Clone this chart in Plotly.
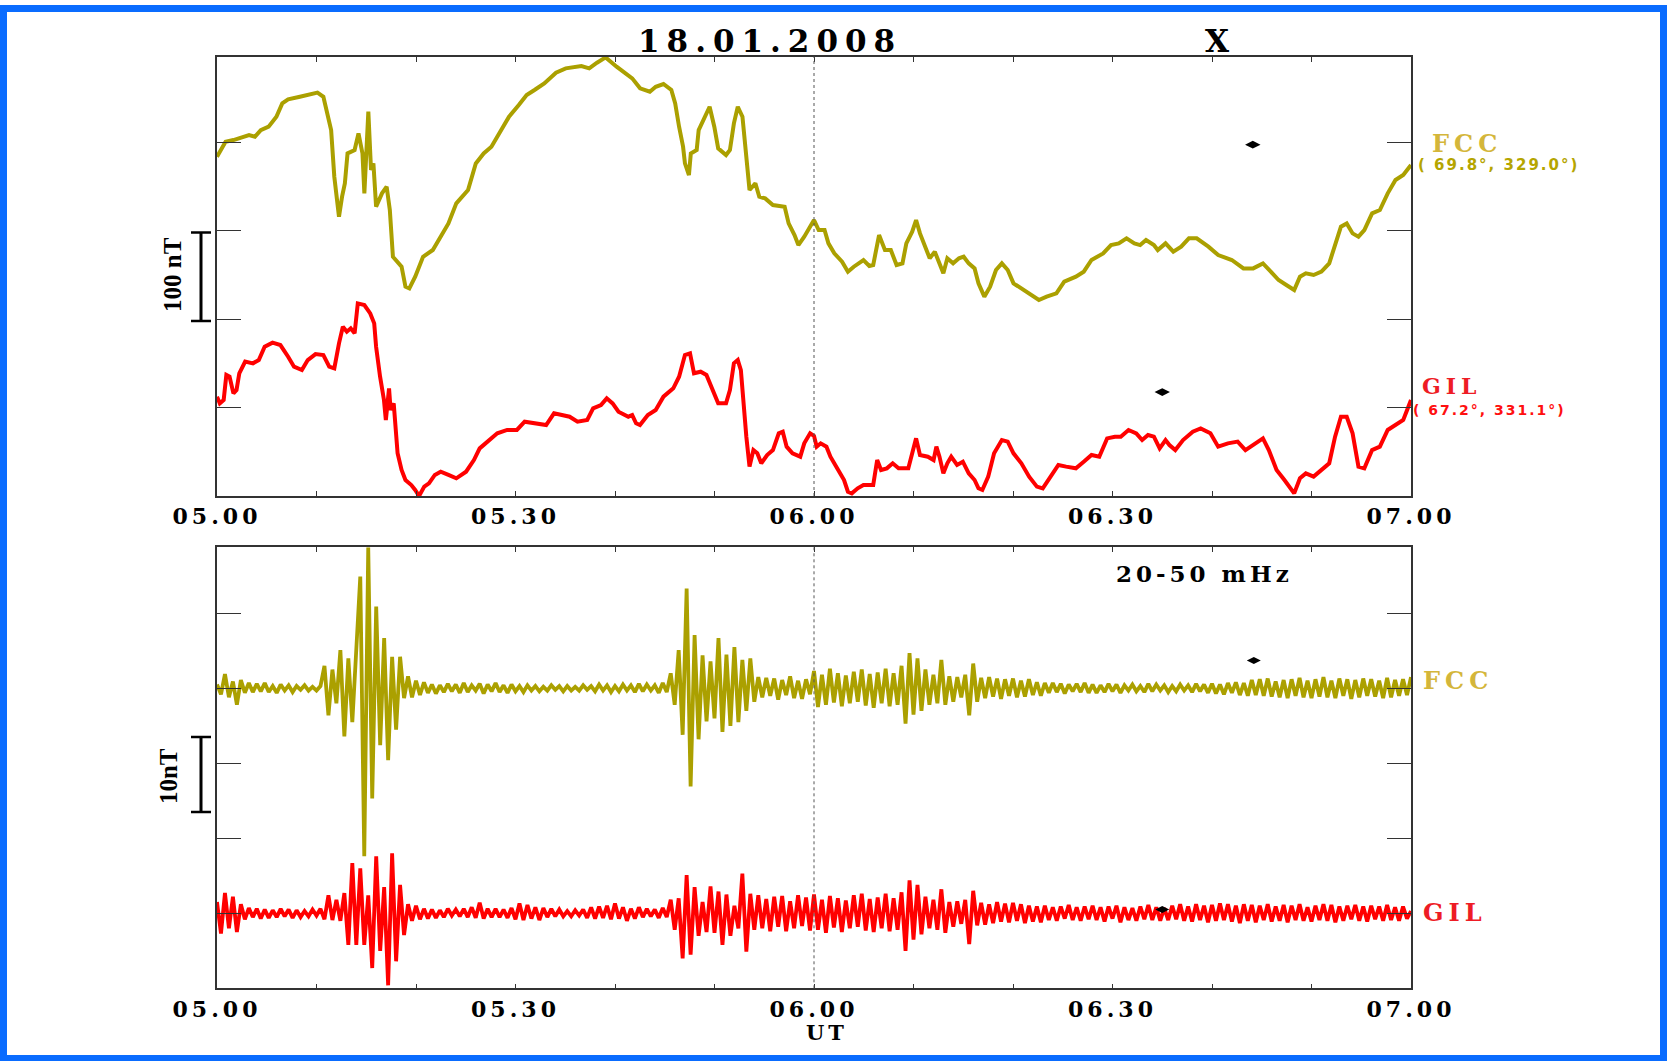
import numpy as np
import plotly.graph_objects as go

W, H = 1667, 1061

# ---------------- data (minutes after 05:00 UT) ----------------
x_tickvals = [0, 10, 20, 30, 40, 50, 60, 70, 80, 90, 100, 110, 120]
x_ticklabels = ["05.00", "", "", "05.30", "", "", "06.00", "", "", "06.30", "", "", "07.00"]

# Upper panel: X component, stacked (nT on the panel scale)
fcc_t = [0, 0.86, 1.65, 3.22, 3.81, 4.4, 5.19, 5.97, 6.56, 7.15, 8.33, 9.31, 10.1, 10.69, 11.08,
         11.47, 11.79, 12.06, 12.26, 12.57, 12.85, 13.12, 13.83, 14.22, 14.62, 14.81, 15.21, 15.48,
         15.72, 15.99, 16.58, 17.05, 17.37, 17.68, 18.15, 18.55, 18.94, 19.33, 19.92, 20.71, 21.69,
         22.48, 23.26, 24.05, 25.23, 26.01, 26.8, 27.58, 28.37, 29.35, 30.33, 31.12, 31.91, 32.89,
         34.07, 35.05, 36.62, 37.41, 38.19, 39.06, 40.16, 41.73, 42.52, 43.5, 44.09, 44.87, 45.66,
         46.05, 46.44, 46.84, 47.03, 47.43, 47.62, 48.21, 48.41, 48.99, 49.51, 49.98, 50.37, 51.16,
         51.55, 51.95, 52.34, 52.81, 53.12, 53.52, 54.11, 54.5, 55.09, 55.87, 57.05, 57.45, 58.04,
         58.43, 59.02, 59.61, 60.0,
         60.47, 61.06, 61.45, 62.04, 62.82, 63.41, 64.0, 64.97, 65.56, 65.95, 66.54, 67.13, 67.72,
         68.30, 68.89, 69.28, 69.87, 70.26, 70.65, 71.24, 71.63, 72.14, 72.61, 73.0, 73.4, 73.98,
         74.57, 75.04, 75.55, 76.14, 76.53, 77.12, 77.7, 78.29, 78.88, 79.47, 80.05, 80.84, 81.62,
         82.6, 83.38, 84.36, 85.15, 86.32, 87.11, 87.89, 89.06, 89.85, 90.63, 91.41, 92.2, 92.78,
         93.37, 94.16, 94.55, 95.33, 96.11, 96.9, 97.68, 98.46, 99.64, 100.62, 101.99, 103.16,
         104.14, 105.12, 105.91, 106.69, 107.47, 108.26, 108.84, 109.43, 110.21, 111.0, 111.78,
         112.37, 112.96, 113.54, 114.13, 114.72, 115.31, 116.09, 116.87, 117.66, 118.44, 119.22, 120]
fcc_x = [383.9, 400.8, 402.7, 408.4, 406.5, 414, 417.8, 429.1, 444.2, 448.7, 451.7, 454.8, 456.3, 451.7, 432.9,
         414, 361.2, 338.6, 316, 338.6, 353.7, 387.6, 391.4, 410.3, 387.6, 342.4, 434.8, 368.8,
         376.3, 327.3, 342.4, 349.9, 323.5, 270.7, 265.1, 259.4, 236.8, 234.9, 248.1, 270.7, 278.3,
         293.4, 308.4, 331.1, 346.2, 376.3, 387.6, 395.2, 410.3, 429.1, 442.3, 453.6, 459.3, 466.8,
         478.9, 483.8, 486.4, 483.8, 490.2, 496.2, 485.7, 472.5, 461.2, 457.4, 463, 466.1, 459.3,
         444.2, 417.8, 395.2, 376.3, 363.1, 387.6, 391.4, 414, 429.1, 440.4, 417.8, 393.3, 385.7,
         391.4, 421.6, 440.4, 429.1, 387.6, 346.2, 353.7, 338.6, 336.7, 329.2, 327.3, 308.4, 295.2,
         283.9, 293.4, 304.7, 312.2,
         300.9, 300.9, 285.8, 274.5, 265.1, 253.8, 259.4, 267, 260.2, 261.3, 295.2, 278.3, 278.3,
         261.3, 263.2, 285.8, 299, 312.2, 297.1, 278.3, 268.9, 276.4, 263.2, 251.9, 268.9, 263.2,
         268.9, 270.7, 263.2, 257.5, 240.6, 225.5, 236.8, 255.7, 263.2, 255.7, 240.6, 234.9, 229.3,
         221.7, 225.5, 229.3, 242.5, 248.1, 253.8, 267, 274.5, 283.9, 285.8, 291.5, 285.8, 283.9,
         289.6, 283.9, 278.3, 285.8, 276.4, 282.1, 291.5, 291.5, 282.1, 272.6, 267, 257.5,
         257.5, 263.2, 253.8, 244.3, 238.7, 233, 248.1, 251.9, 250, 253.8, 263.2,
         285.8, 304.7, 308.4, 297.1, 293.4, 300.9, 319.8, 323.5, 342.4, 357.5, 363.1, 374.4]

gil_t = [0, 0.28, 0.67, 0.94, 1.26, 1.65, 1.96, 2.24, 2.83, 3.61, 4.2, 4.79, 5.58, 6.37, 7.15, 7.74,
         8.53, 9.12, 9.9, 10.69, 11.28, 11.79, 12.26, 12.65, 13.05, 13.44, 13.83, 14.15, 14.81, 15.4,
         15.8, 15.99, 16.39, 16.78, 16.97, 17.29, 17.45, 17.76, 18.15, 18.55, 18.94, 19.53, 19.92,
         20.31, 20.83, 21.3, 21.89, 22.48, 23.26, 24.05, 25.03, 25.82, 26.4, 27.19, 28.17, 29.16,
         30.14, 30.92, 31.91, 33.08, 33.87, 34.66, 35.44, 36.23, 37.21, 37.8, 38.59, 39.17, 39.76,
         40.35, 41.34, 41.73, 42.12, 42.51, 43.3, 44.09, 44.87, 45.86, 46.44, 47.03, 47.54, 47.94,
         48.61, 49.19, 49.78, 50.37, 51.16, 51.55, 51.95, 52.34, 52.65, 52.93, 53.2, 53.52, 53.91,
         54.3, 54.7, 55.29, 55.87, 56.46, 56.86, 57.25, 57.84, 58.62, 59.02, 59.61, 60.0,
         60.27, 60.67, 61.25, 61.65, 62.43, 63.02, 63.41, 63.8, 64.39, 64.97, 65.95, 66.35, 66.74,
         67.32, 67.91, 68.5, 69.48, 69.95, 70.26, 70.65, 71.44, 72.02, 72.3, 72.61, 73.0, 73.4,
         73.79, 74.38, 74.96, 75.55, 76.14, 76.53, 76.92, 77.51, 78.1, 78.88, 79.47, 80.05, 80.84,
         81.62, 82.4, 82.99, 83.78, 84.56, 85.34, 86.32, 87.11, 87.89, 88.67, 89.46, 90.24, 90.83,
         91.61, 92.39, 92.98, 93.57, 94.16, 94.74, 95.33, 95.72, 96.31, 97.09, 98.07, 98.86, 99.84,
         100.62, 101.6, 102.58, 103.36, 104.14, 105.12, 105.71, 106.49, 107.28, 108.26, 108.84,
         109.43, 110.21, 111.0, 111.78, 112.37, 112.96, 113.54, 114.13, 114.72, 115.31, 116.09,
         116.87, 117.66, 118.44, 119.22, 119.61, 120]
gil_x = [112.4, 104.8, 108.6, 136.9, 135, 116.1, 119.9, 138.8, 152, 150.1, 153.8, 168.9, 173.5, 170.8, 157.6, 146.3,
         142.5, 153.8, 160.6, 159.5, 146.3, 144.4, 172.7, 191.6, 185.9, 189.7, 184, 217.9, 216.1, 206.6,
         195.3, 168.9, 135, 108.6, 86, 121.8, 97.3, 104.8, 48.3, 29.4, 18.1, 12.4, 6.8,
         0, 10.6, 14.3, 23.8, 27.5, 23.8, 20, 27.5, 40.7, 53.9, 61.5, 70.9, 74.7,
         74.7, 84.1, 82.2, 80.3, 93.5, 91.6, 89.7, 84.1, 86, 99.2, 102.9, 110.5, 104.8,
         95.4, 89.7, 91.6, 82.2, 80.3, 91.6, 97.3, 112.4, 121.8, 135, 159.5, 161.4, 138.8,
         140.6, 136.9, 119.9, 104.8, 104.8, 119.9, 150.1, 153.8, 142.5, 101.1, 67.1, 33.2, 52,
         48.3, 37, 46.4, 52, 70.9, 72.8, 55.8, 48.3, 44.5, 59.6, 70.9, 68,
         55.8, 59.6, 55.8, 44.5, 29.4, 18.1, 4.9, 3, 8.7, 12.4, 12.4, 40.7, 29.4,
         31.3, 37, 31.3, 31.3, 52, 65.2, 46.4, 44.5, 40.7, 55.8, 44.5, 25.6, 37,
         44.5, 35.1, 38.8, 25.6, 18.1, 8.7, 6.8, 21.9, 48.3, 63.3, 61.5, 48.3, 37,
         21.9, 10.6, 8.7, 21.9, 35.1, 33.2, 31.3, 38.8, 46.4, 44.5, 65.2, 67.1, 67.1,
         74.7, 70.9, 63.3, 69, 67.1, 53.9, 63.3, 57.7, 52, 63.3, 72.8, 76.5, 70.9,
         55.8, 59.6, 61.5, 52, 57.7, 65.2, 52, 29.4, 18.1, 3, 20,
         25.6, 21.9, 29.4, 37, 67.1, 89.7, 89.7, 70.9, 33.2, 31.3, 52,
         55.8, 74.7, 80.3, 86, 97.3, 108.6]

# Lower panel: 20-50 mHz filtered X (nT deviation), sampled every 0.4 min
fcc_f = [0.5, -0.8, 1.9, -1.2, 0.9, -2.2, 1.1, -0.6, 0.7, -0.5,
         0.6, -0.4, 0.7, -0.5, 0.3, -0.6, 0.5, -0.3, 0.4, -0.5,
         0.3, -0.2, 0.4, -0.3, 0.2, -0.3, 0.3, 3.0, -3.6, 2.5,
         -2.0, 5.1, -6.4, 4.0, -4.5, 6.0, 14.9, -22.4, 18.8, -14.7,
         10.9, -7.6, 6.7, -9.6, 4.2, -5.5, 4.2, -1.3, 1.6, -1.2,
         1.0, -0.9, 0.8, -0.6, 0.5, -0.7, 0.4, -0.5, 0.6, -0.4,
         0.5, -0.6, 0.7, -0.5, 0.4, -0.3, 0.6, -0.7, 0.5, -0.4,
         0.7, -0.5, 0.4, -0.6, 0.5, -0.4, 0.3, -0.5, 0.4, -0.3,
         0.3, -0.4, 0.2, -0.3, 0.4, -0.2, 0.3, -0.4, 0.3, -0.3,
         0.2, -0.3, 0.4, -0.2, 0.3, -0.4, 0.5, -0.3, 0.4, -0.5,
         0.3, -0.4, 0.5, -0.3, 0.4, -0.5, 0.6, -0.4, 0.5, -0.3,
         0.4, -0.6, 0.7, -0.5, 2.0, -2.2, 5.1, -6.2, 13.3, -13.1,
         7.1, -6.8, 4.4, -4.4, 3.6, -4.0, 6.7, -5.8, 4.5, -5.0,
         5.5, -4.5, 3.8, -3.0, 4.0, -1.8, 1.5, -1.2, 1.4, -1.0,
         1.3, -1.5, 1.1, -0.9, 1.6, -1.3, 1.0, -1.4, 1.2, -0.8,
         2.3, -2.5, 1.8, -2.2, 2.6, -1.9, 2.0, -2.4, 1.7, -2.0,
         2.2, -1.8, 2.5, -2.3, 1.9, -2.6, 2.1, -2.0, 2.6, -2.4,
         2.0, -2.2, 3.0, -4.7, 4.7, -3.5, 4.0, -3.0, 2.5, -2.2,
         1.8, -2.0, 3.8, -2.2, 1.6, -1.8, 1.5, -1.2, 1.8, -3.6,
         3.3, -1.8, 1.4, -1.3, 1.5, -1.1, 1.3, -1.4, 1.2, -1.0,
         1.3, -1.2, 1.0, -1.1, 1.2, -0.9, 0.8, -1.0, 0.7, -0.6,
         0.7, -0.5, 0.6, -0.7, 0.5, -0.4, 0.6, -0.5, 0.7, -0.6,
         0.5, -0.6, 0.4, -0.5, 0.6, -0.4, 0.5, -0.6, 0.4, -0.3,
         0.5, -0.4, 0.3, -0.5, 0.6, -0.4, 0.5, -0.3, 0.4, -0.5,
         0.3, -0.4, 0.5, -0.3, 0.4, -0.5, 0.6, -0.4, 0.5, -0.6,
         0.6, -0.7, 0.5, -0.8, 0.7, -0.6, 0.8, -0.9, 0.7, -1.0,
         1.1, -0.9, 1.2, -1.0, 1.3, -1.1, 0.9, -1.2, 1.1, -1.3,
         1.2, -1.0, 1.4, -1.2, 1.0, -1.3, 1.2, -1.1, 1.5, -1.2,
         1.0, -1.3, 1.3, -1.0, 1.2, -1.4, 1.1, -1.2, 1.3, -1.0,
         1.2, -1.1, 1.0, -1.3, 1.4, -1.2, 1.1, -1.0, 1.2, -0.9,
         1.5]
gil_f = [1.5, -2.7, 2.7, -2.0, 2.2, -2.5, 1.2, -0.8, 0.7, -0.5,
         0.6, -0.7, 0.5, -0.6, 0.4, -0.5, 0.6, -0.4, 0.5, -0.6,
         0.4, -0.5, 0.3, -0.4, 0.5, -0.3, 0.6, -0.8, 2.4, -0.9,
         1.8, -1.0, 2.7, -4.2, 6.7, -4.2, 6.0, -4.2, 2.4, -7.3,
         7.6, -5.0, 3.5, -9.6, 8.0, -6.4, 3.8, -2.9, 1.2, -1.0,
         1.0, -0.8, 0.6, -0.7, 0.5, -0.6, 0.4, -0.5, 0.6, -0.3,
         0.5, -0.4, 0.6, -0.5, 0.8, -0.6, 1.4, -0.7, 0.6, -0.5,
         0.6, -0.5, 0.5, -0.6, 0.7, -0.8, 1.3, -0.9, 1.1, -0.7,
         0.8, -0.9, 0.7, -0.5, 0.6, -0.4, 0.5, -0.4, 0.3, -0.4,
         0.4, -0.3, 0.5, -0.6, 0.8, -0.7, 0.9, -0.6, 1.0, -0.8,
         1.3, -0.7, 0.8, -1.0, 0.6, -0.7, 0.8, -0.5, 0.6, -0.4,
         0.5, -0.6, 0.7, -0.5, 1.8, -2.2, 2.0, -6.0, 5.1, -5.5,
         3.5, -3.0, 1.5, -2.5, 3.6, -2.6, 2.9, -4.2, 2.5, -3.0,
         1.0, -2.0, 5.3, -5.1, 2.6, -2.2, 2.4, -2.0, 1.9, -2.4,
         2.2, -1.8, 2.3, -2.4, 1.6, -2.0, 2.4, -1.7, 2.1, -2.3,
         2.5, -2.2, 1.8, -2.6, 2.3, -1.9, 2.0, -2.5, 1.7, -2.0,
         2.4, -1.8, 2.6, -2.3, 1.9, -2.5, 2.1, -2.0, 2.6, -2.4,
         2.0, -2.2, 2.8, -5.0, 4.4, -3.5, 3.8, -2.8, 2.2, -2.0,
         1.8, -2.2, 3.2, -2.6, 1.5, -1.8, 1.6, -1.4, 1.8, -4.1,
         3.0, -1.6, 1.4, -1.5, 1.2, -1.3, 1.5, -1.1, 1.3, -1.2,
         1.4, -1.0, 1.2, -1.3, 1.0, -1.1, 0.9, -1.2, 1.0, -0.9,
         0.8, -1.0, 0.9, -0.7, 1.1, -0.9, 0.8, -1.0, 0.9, -0.8,
         1.0, -0.9, 0.8, -1.1, 0.9, -0.7, 1.0, -1.2, 0.8, -0.9,
         0.7, -1.0, 0.9, -0.8, 1.1, -0.9, 0.8, -1.0, 0.7, -0.9,
         1.0, -0.8, 1.2, -1.0, 0.9, -1.1, 1.2, -0.9, 1.0, -1.2,
         1.1, -1.0, 1.3, -0.9, 1.2, -1.1, 1.0, -1.3, 1.2, -1.0,
         1.1, -1.2, 1.0, -0.9, 1.2, -1.1, 0.9, -1.0, 1.1, -1.2,
         1.0, -0.9, 1.2, -1.0, 0.8, -1.1, 1.0, -0.9, 1.2, -1.0,
         1.1, -1.2, 0.9, -1.0, 1.0, -0.8, 1.1, -1.0, 0.9, -1.1,
         1.0, -0.8, 0.9, -1.0, 1.1, -0.9, 0.8, -1.0, 0.9, -0.7,
         0.3]
FCC_BASE_F = 40.0
GIL_BASE_F = 10.0

# black reference diamonds (time, value)
top_marks_t = [104.1, 95.0]
top_marks_v = [397.5, 117.6]
bot_marks_t = [104.2, 95.0]
bot_marks_v = [43.7, 10.5]

FCC_COL = "#ABA000"
FCC_TXT = "#D4B63A"
GIL_COL = "#FF0000"

# ---------------- figure ----------------
def px(x):
    return x / W

def py(y):
    return 1 - y / H

def spaced(s, sp):
    return s if not s else f"<span style='letter-spacing:{sp}px'>{s}</span>"

XD = [px(217), px(1411)]
TOP_D = [py(496), py(56.7)]
BOT_D = [py(988.3), py(547.3)]

fig = go.Figure()

fig.add_trace(go.Scatter(x=fcc_t, y=fcc_x, mode="lines", line=dict(color=FCC_COL, width=4),
                         xaxis="x", yaxis="y", showlegend=False))
fig.add_trace(go.Scatter(x=gil_t, y=gil_x, mode="lines", line=dict(color=GIL_COL, width=4),
                         xaxis="x", yaxis="y", showlegend=False))
fig.add_trace(go.Scatter(x=top_marks_t, y=top_marks_v, mode="markers",
                         marker=dict(symbol="diamond-wide", size=11, color="black"),
                         xaxis="x", yaxis="y", showlegend=False))

tf_f = np.linspace(0, 120, len(fcc_f))
tg_f = np.linspace(0, 120, len(gil_f))
fig.add_trace(go.Scatter(x=tf_f, y=np.array(fcc_f) + FCC_BASE_F, mode="lines",
                         line=dict(color=FCC_COL, width=3.8), xaxis="x2", yaxis="y2", showlegend=False))
fig.add_trace(go.Scatter(x=tg_f, y=np.array(gil_f) + GIL_BASE_F, mode="lines",
                         line=dict(color=GIL_COL, width=3.8), xaxis="x2", yaxis="y2", showlegend=False))
fig.add_trace(go.Scatter(x=bot_marks_t, y=bot_marks_v, mode="markers",
                         marker=dict(symbol="diamond-wide", size=10, color="black"),
                         xaxis="x2", yaxis="y2", showlegend=False))

tickfont = dict(family="DejaVu Serif", size=22, color="black", weight="bold")
axis_common = dict(showgrid=False, zeroline=False, showline=True, linecolor="#333333",
                   linewidth=1.6, mirror="ticks", ticks="inside", tickcolor="#333333",
                   automargin=False)

xcfg = dict(axis_common, range=[0, 120], tickmode="array", tickvals=x_tickvals,
            ticktext=[spaced(s, 4) for s in x_ticklabels], ticklen=5, tickwidth=1.4,
            tickfont=tickfont, domain=XD)

fig.update_layout(
    width=W, height=H, autosize=False,
    margin=dict(l=0, r=0, t=0, b=0, pad=0, autoexpand=False),
    paper_bgcolor="white", plot_bgcolor="white",
    showlegend=False,
    xaxis=dict(xcfg, anchor="y"),
    yaxis=dict(axis_common, range=[0, 497], tickvals=[100, 200, 300, 400], ticklen=24,
               tickwidth=1.3, showticklabels=False, domain=TOP_D, anchor="x"),
    xaxis2=dict(xcfg, anchor="y2"),
    yaxis2=dict(axis_common, range=[0, 58.8], tickvals=[10, 20, 30, 40, 50], ticklen=24,
                tickwidth=1.3, showticklabels=False, domain=BOT_D, anchor="x2"),
)

shapes = []
# 06:00 dotted lines
for xr, yr in [("x", "y domain"), ("x2", "y2 domain")]:
    shapes.append(dict(type="line", xref=xr, yref=yr, x0=60, x1=60, y0=0, y1=1,
                       line=dict(color="#555555", width=1, dash="dot")))
# scale bars (100 nT on top panel, 10 nT on bottom panel)
for yr, y0, y1 in [("y", 198, 298), ("y2", 23.5, 33.5)]:
    shapes.append(dict(type="line", xref="paper", yref=yr, x0=px(201), x1=px(201), y0=y0, y1=y1,
                       line=dict(color="black", width=3)))
    for yy in (y0, y1):
        shapes.append(dict(type="line", xref="paper", yref=yr, x0=px(191), x1=px(211), y0=yy, y1=yy,
                           line=dict(color="black", width=2.5)))
# blue frame
shapes.append(dict(type="rect", xref="paper", yref="paper", x0=px(3.5), x1=px(1663.5),
                   y0=py(1058.5), y1=py(8.5), line=dict(color="#0A6CFF", width=7),
                   fillcolor="rgba(0,0,0,0)"))
fig.update_layout(shapes=shapes)

ann = []
def add_text(text, x, y, size, color="black", family="DejaVu Serif", xanchor="center",
             weight="bold", angle=0, xref="paper", yref="paper"):
    ann.append(dict(text=text, x=x, y=y, xref=xref, yref=yref, showarrow=False,
                    xanchor=xanchor, yanchor="middle", textangle=angle,
                    font=dict(family=family, size=size, color=color, weight=weight)))

add_text(spaced("18.01.2008", 7), px(770), py(41), 31)
add_text("X", px(1217), py(41), 31)
add_text(spaced("FCC", 5), px(1430), py(143), 24, color=FCC_TXT, xanchor="left")
add_text(spaced("( 69.8°, 329.0°)", 2), px(1416), py(165), 15, color="#B5A500",
         family="DejaVu Sans", xanchor="left")
add_text(spaced("GIL", 5), px(1420), py(386), 22, color="#EE1C25", xanchor="left")
add_text(spaced("( 67.2°, 331.1°)", 2), px(1411), py(410), 14, color="#FF1010",
         family="DejaVu Sans", xanchor="left")
add_text(spaced("FCC", 5), px(1421), py(680), 24, color=FCC_TXT, xanchor="left")
add_text(spaced("GIL", 5), px(1421), py(912), 24, color="#EE1C25", xanchor="left")
add_text(spaced("20-50 mHz", 4), px(1204), py(573), 23)
add_text(spaced("UT", 4), px(827), py(1032), 21)
add_text("100 nT", px(172), 250, 25, family="Liberation Serif", angle=-90, yref="y")
add_text("10nT", px(168), 28.3, 25, family="Liberation Serif", angle=-90, yref="y2")
fig.update_layout(annotations=ann)

fig.write_html("out.html")
